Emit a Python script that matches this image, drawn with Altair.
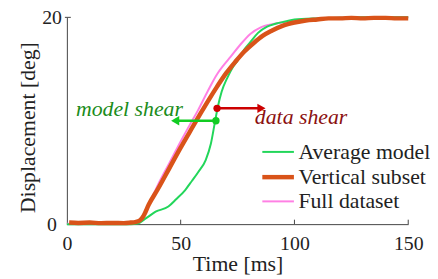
import altair as alt
import pandas as pd

series = ["Average model", "Vertical subset", "Full dataset"]
colors = ["#22d65a", "#d95319", "#ff80e4"]
widths = [2, 4.5, 2]

model_t = [0, 10, 20, 28, 31, 35, 39, 44.6, 48, 52, 55, 57.6, 61, 63.3, 65, 66.3, 68, 70.6, 73, 75, 78, 80.6, 84, 88, 92, 96, 100, 110, 120, 130, 140, 150]
model_v = [0, 0, 0, 0, 0.05, 0.6, 1.2, 1.7, 2.4, 3.3, 4.2, 5.0, 6.2, 7.8, 9.8, 11.3, 12.8, 14.2, 15.2, 15.8, 16.9, 17.6, 18.5, 19.1, 19.4, 19.6, 19.8, 19.9, 19.95, 20, 20, 20]

vert_t = [1, 5, 10, 15, 20, 25, 28, 30, 32, 33.7, 36, 40, 45, 50, 55, 59, 62, 66, 70, 74, 78, 82, 86, 90, 95, 100, 105, 110, 115, 120, 125, 130, 135, 140, 145, 150]
vert_v = [0.15, 0.12, 0.15, 0.1, 0.12, 0.1, 0.15, 0.2, 0.35, 0.8, 1.9, 3.4, 5.4, 7.4, 9.3, 10.8, 11.9, 13.3, 14.6, 15.7, 16.7, 17.5, 18.2, 18.7, 19.2, 19.5, 19.7, 19.8, 19.9, 19.9, 19.95, 19.9, 19.95, 19.95, 19.9, 19.9]

full_t = [0, 10, 20, 28, 31, 33, 36, 40, 45, 50, 54, 57.6, 62, 66, 69, 72, 76, 80.6, 85, 92, 100, 110, 120, 150]
full_v = [0.05, 0.05, 0.05, 0.05, 0.15, 0.6, 1.9, 3.8, 5.9, 8.0, 9.6, 11.0, 12.9, 14.5, 15.4, 16.2, 17.3, 18.4, 19.0, 19.4, 19.7, 19.9, 19.95, 20]

x_ticks = [50, 100, 150]
y_ticks = [20]

ann_text = ["model shear", "data shear"]
ann_t = [51, 82.6]
ann_v = [10.5, 9.7]
ann_color = ["#1a8c1a", "#8b1010"]
ann_align = ["right", "left"]

red_dot = (66, 11.2)
red_tip = 85.5
green_dot = (65.5, 10.0)
green_tip = 47.6

FONT = "Liberation Serif, Times New Roman, serif"

rows = []
for name, ts, vs in [(series[0], model_t, model_v), (series[1], vert_t, vert_v), (series[2], full_t, full_v)]:
    for t, v in zip(ts, vs):
        rows.append({"series": name, "t": t, "v": v})
df = pd.DataFrame(rows)

xscale = alt.Scale(domain=[0, 150], nice=False)
yscale = alt.Scale(domain=[0, 20], nice=False)

x_enc = alt.X("t:Q", scale=xscale, axis=alt.Axis(
    values=[0, 50, 100, 150], title="Time [ms]", grid=False, ticks=False, tickSize=0,
    labelFont=FONT, labelFontSize=20, labelColor="#222", labelBaseline="alphabetic", labelPadding=26,
    titleFont=FONT, titleFontSize=22, titleFontWeight="normal", titleColor="#222",
    titleBaseline="alphabetic", titleY=47, domainColor="#444", labelFlush=False))
y_enc = alt.Y("v:Q", scale=yscale, axis=alt.Axis(
    values=[0, 20], title="Displacement [deg]", grid=False, ticks=False, tickSize=0,
    labelFont=FONT, labelFontSize=20, labelColor="#222", labelAlign="center", labelBaseline="middle",
    labelPadding=15.5, labelFlush=False,
    titleFont=FONT, titleFontSize=22, titleFontWeight="normal", titleColor="#222",
    titleBaseline="alphabetic", titleX=-33, titleY=111, titleAngle=270, domainColor="#444"))

legend = alt.Legend(title=None, orient="none", legendX=199, legendY=123, symbolType="M-1.33,0H1.33",
                    symbolSize=576, labelFont=FONT, labelFontSize=22, labelColor="#222",
                    labelOffset=6, padding=0, rowPadding=0, symbolStrokeWidth=2)

color_enc = alt.Color("series:N", scale=alt.Scale(domain=series, range=colors), legend=legend)
sw_enc = alt.StrokeWidth("series:N", scale=alt.Scale(type="ordinal", domain=series, range=widths), legend=legend)

base = alt.Chart(df)
layers = []
for name in [series[2], series[0], series[1]]:
    layers.append(base.transform_filter(alt.datum.series == name).mark_line(interpolate="monotone").encode(
        x=x_enc, y=y_enc, color=color_enc, strokeWidth=sw_enc, order="t:Q"))

# inward ticks
xt = alt.Chart(pd.DataFrame({"t": x_ticks})).mark_rule(color="#444", strokeWidth=1).encode(
    x=alt.X("t:Q", scale=xscale), y=alt.value(209), y2=alt.value(204.5))
yt = alt.Chart(pd.DataFrame({"v": y_ticks})).mark_rule(color="#444", strokeWidth=1).encode(
    y=alt.Y("v:Q", scale=yscale), x=alt.value(-2), x2=alt.value(4))

# arrows
arr = pd.DataFrame({
    "t": [red_dot[0], green_dot[0]], "t2": [red_tip, green_tip],
    "v": [red_dot[1], green_dot[1]], "c": ["#cc0000", "#11cc22"]})
arr_lines = alt.Chart(arr).mark_rule(strokeWidth=2.5).encode(
    x=alt.X("t:Q", scale=xscale), x2="t2:Q", y=alt.Y("v:Q", scale=yscale),
    color=alt.Color("c:N", scale=None))
heads = pd.DataFrame({"t": [red_tip, green_tip], "v": [red_dot[1], green_dot[1]],
                      "c": ["#cc0000", "#11cc22"], "s": ["triangle-right", "triangle-left"]})
arr_heads = alt.Chart(heads).mark_point(filled=True, size=90, opacity=1).encode(
    x=alt.X("t:Q", scale=xscale), y=alt.Y("v:Q", scale=yscale),
    color=alt.Color("c:N", scale=None), shape=alt.Shape("s:N", scale=None))
dots = pd.DataFrame({"t": [red_dot[0], green_dot[0]], "v": [red_dot[1], green_dot[1]],
                     "c": ["#cc0000", "#11cc22"]})
arr_dots = alt.Chart(dots).mark_circle(size=55, opacity=1).encode(
    x=alt.X("t:Q", scale=xscale), y=alt.Y("v:Q", scale=yscale),
    color=alt.Color("c:N", scale=None))

texts = []
for txt, t, v, c, a in zip(ann_text, ann_t, ann_v, ann_color, ann_align):
    texts.append(alt.Chart(pd.DataFrame({"t": [t], "v": [v], "txt": [txt]})).mark_text(
        font=FONT, fontSize=22, fontStyle="italic", color=c, align=a, baseline="alphabetic").encode(
        x=alt.X("t:Q", scale=xscale), y=alt.Y("v:Q", scale=yscale), text="txt:N"))

chart = alt.layer(*layers, xt, yt, arr_lines, arr_heads, arr_dots, *texts).properties(
    width=345, height=209,
    autosize=alt.AutoSizeParams(type="none"),
    padding={"left": 59.5, "top": 8, "right": 22, "bottom": 54},
).configure_view(stroke=None)

chart.save("out.html", embed_options={"renderer": "svg", "actions": False})
